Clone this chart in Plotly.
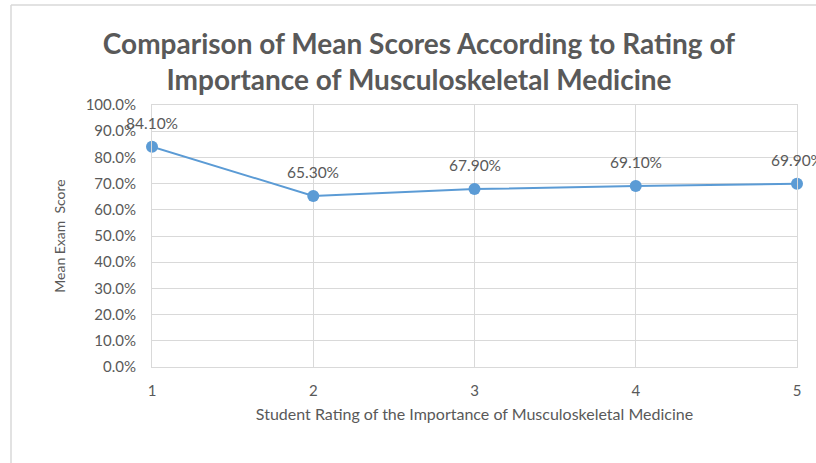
import plotly.graph_objects as go

ratings = [1, 2, 3, 4, 5]
mean_scores = [0.841, 0.653, 0.679, 0.691, 0.699]
label_texts = ["84.10%", "65.30%", "67.90%", "69.10%", "69.90%"]
y_ticks = [0.0, 0.1, 0.2, 0.3, 0.4, 0.5, 0.6, 0.7, 0.8, 0.9, 1.0]

W, H = 816, 463
L, R, T, B = 152, 19, 105, 96
pw, ph = W - L - R, H - T - B

grey = "#595959"
grid = "#d9d9d9"
font = "Lato"

fig = go.Figure()
fig.add_trace(go.Scatter(
    x=ratings, y=mean_scores, mode="lines+markers",
    line=dict(color="#5B9BD5", width=2),
    marker=dict(color="#5B9BD5", size=12),
    cliponaxis=False, showlegend=False, hoverinfo="skip",
))

for xv, yv, t in zip(ratings, mean_scores, label_texts):
    fig.add_annotation(x=xv, y=yv, text=t, showarrow=False, yshift=24,
                       xanchor="center", yanchor="middle",
                       font=dict(family=font, size=15.5, color=grey))

def px(x):
    return (x - L) / pw

def py(y):
    return (H - B - y) / ph

fig.update_layout(
    width=W, height=H,
    margin=dict(l=L, r=R, t=T, b=B),
    paper_bgcolor="white", plot_bgcolor="white",
    title=dict(
        text="Comparison of Mean Scores According to Rating of<br>Importance of Musculoskeletal Medicine",
        x=419 / W, xanchor="center", y=1 - 54 / H, yanchor="middle",
        font=dict(family=font, size=28, color=grey, weight="bold"),
    ),
    xaxis=dict(
        range=[1, 5], tickvals=ratings, ticktext=[str(r) for r in ratings],
        showgrid=True, gridcolor=grid, gridwidth=1,
        showline=True, linecolor=grid, mirror=True, zeroline=False,
        ticks="", ticklen=0, ticklabelstandoff=10,
        tickfont=dict(family=font, size=15, color=grey),
        title=dict(text="Student Rating of the Importance of Musculoskeletal Medicine",
                   font=dict(family=font, size=16, color=grey), standoff=10),
    ),
    yaxis=dict(
        range=[0, 1], tickvals=y_ticks, tickformat=".1%",
        showgrid=True, gridcolor=grid, gridwidth=1,
        showline=True, linecolor=grid, mirror=True, zeroline=False,
        ticks="", ticklen=0, ticklabelstandoff=12,
        tickfont=dict(family=font, size=15, color=grey),
        title=dict(text="Mean Exam  Score", font=dict(family=font, size=14, color=grey), standoff=16),
    ),
    shapes=[
        dict(type="line", xref="paper", yref="paper", x0=px(11), x1=px(11), y0=py(5), y1=py(H + 5),
             line=dict(color="#d9d9d9", width=1.5)),
        dict(type="line", xref="paper", yref="paper", x0=px(11), x1=px(W + 5), y0=py(5), y1=py(5),
             line=dict(color="#d9d9d9", width=1.5)),
    ],
)

fig.write_html("out.html", config={"displayModeBar": False},
               post_script="document.body.style.margin='0px';document.body.style.overflow='hidden';")
